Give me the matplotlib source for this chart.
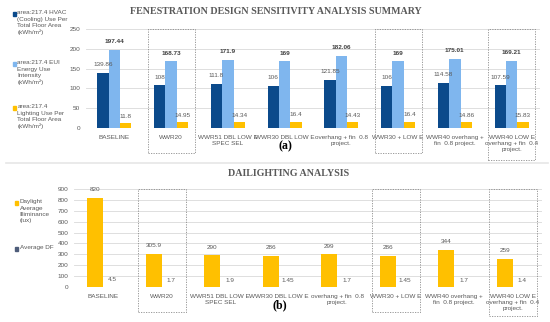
import matplotlib
matplotlib.use("Agg")
import matplotlib.pyplot as plt
import matplotlib.transforms as mtransforms
from matplotlib.patches import Rectangle
from matplotlib import font_manager
import numpy as np

categories = ["BASELINE", "WWR20", "WWR51 DBL LOW E\nSPEC SEL", "WWR30 DBL LOW E",
              "overhang + fin  0.8\nproject.", "WWR30 + LOW E",
              "WWR40 overhang +\nfin  0.8 project.", "WWR40 LOW E\noverhang + fin  0.4\nproject."]
hvac = [139.86, 108, 111.8, 106, 121.85, 106, 114.58, 107.59]
eui = [197.44, 168.73, 171.9, 169, 182.06, 169, 175.01, 169.21]
lighting = [11.8, 14.95, 14.34, 16.4, 14.43, 16.4, 14.86, 15.83]
lux = [820, 305.9, 290, 286, 299, 286, 344, 259]
df = [4.5, 1.7, 1.9, 1.45, 1.7, 1.45, 1.7, 1.4]
df_labels = ["4.5", "1.7", "1.9", "1.45", "1.7", "1.45", "1.7", "1.4"]
boxed = [1, 5, 7]

legend_a = ["area:217.4 HVAC\n(Cooling) Use Per\nTotal Floor Area\n(kWh/m²)",
            "area:217.4 EUI\nEnergy Use\nIntensity\n(kWh/m²)",
            "area:217.4\nLighting Use Per\nTotal Floor Area\n(kWh/m²)"]
legend_b = ["Daylight\nAverage\nIlliminance\n(lux)", "Average DF"]

C_DARK = "#0B4A8B"
C_LIGHT = "#7FB6EE"
C_GOLD = "#FFC000"
C_DF = "#4E5D7A"
TXT = "#595959"
GRID = "#D9D9D9"
FS = 4.6

installed = {f.name for f in font_manager.fontManager.ttflist}
NARROW = "Liberation Sans Narrow" if "Liberation Sans Narrow" in installed else "Liberation Sans"
plt.rcParams['font.family'] = ['Liberation Sans', 'DejaVu Sans']

W, H = 550, 322
fig = plt.figure(figsize=(5.5, 3.22), dpi=100)

def fx(px):
    return px / W

def fy(py):
    return 1 - py / H

x = np.arange(len(categories))
CAT_FS = 4.9 if NARROW != "Liberation Sans" else 4.2

# ---------- panel (a)
axa = fig.add_axes([fx(86), fy(128), fx(540) - fx(86), fy(29) - fy(128)])
bw = 0.2
axa.bar(x - bw, hvac, bw, color=C_DARK, zorder=3)
axa.bar(x, eui, bw, color=C_LIGHT, zorder=3)
axa.bar(x + bw, lighting, bw, color=C_GOLD, zorder=3)
for xi, v in zip(x, hvac):
    axa.annotate(f"{v:g}", (xi - bw, v), xytext=(0, 4), textcoords="offset points",
                 ha="center", va="bottom", fontsize=FS, color=TXT)
for xi, v in zip(x, eui):
    axa.annotate(f"{v:g}", (xi, v), xytext=(0, 4), textcoords="offset points",
                 ha="center", va="bottom", fontsize=FS, color="#404040", fontweight="bold")
for xi, v in zip(x, lighting):
    axa.annotate(f"{v:g}", (xi + bw, v), xytext=(0, 3), textcoords="offset points",
                 ha="center", va="bottom", fontsize=FS, color=TXT)
axa.set_ylim(0, 250)
axa.set_yticks([0, 50, 100, 150, 200, 250])
axa.set_xlim(-0.5, len(categories) - 0.5)
axa.set_xticks(x)
axa.set_xticklabels(categories, fontsize=CAT_FS, color=TXT, linespacing=1.3,
                    family=[NARROW, 'DejaVu Sans'])

# ---------- panel (b)
axb = fig.add_axes([fx(74), fy(287), fx(542) - fx(74), fy(189) - fy(287)])
bw2 = 0.27
axb.bar(x - bw2 / 2, lux, bw2, color=C_GOLD, zorder=3)
axb.bar(x + bw2 / 2, df, bw2, color=C_DF, zorder=3)
for xi, v in zip(x, lux):
    axb.annotate(f"{v:g}", (xi - bw2 / 2, v), xytext=(0, 4), textcoords="offset points",
                 ha="center", va="bottom", fontsize=FS, color=TXT)
for xi, v, s in zip(x, df, df_labels):
    axb.annotate(s, (xi + bw2 / 2, v), xytext=(1, 3), textcoords="offset points",
                 ha="center", va="bottom", fontsize=FS, color=TXT)
axb.set_ylim(0, 900)
axb.set_yticks(range(0, 901, 100))
axb.set_xlim(-0.5, len(categories) - 0.5)
axb.set_xticks(x)
axb.set_xticklabels(categories, fontsize=CAT_FS, color=TXT, linespacing=1.3,
                    family=[NARROW, 'DejaVu Sans'])

for ax in (axa, axb):
    for s in ax.spines.values():
        s.set_visible(False)
    ax.grid(axis="y", color=GRID, linewidth=0.6, zorder=0)
    ax.tick_params(axis="both", length=0, labelsize=FS, colors=TXT)
    ax.tick_params(axis="x", pad=5)
    ax.tick_params(axis="y", pad=4)

# dashed boxes
for ax, bottoms in ((axa, (-0.255, -0.255, -0.325)), (axb, (-0.255, -0.255, -0.30))):
    trans = mtransforms.blended_transform_factory(ax.transData, ax.transAxes)
    for i, b in zip(boxed, bottoms):
        r = Rectangle((i - 0.41, b), 0.83, 1 - b, transform=trans, fill=False,
                      edgecolor="#8C8C8C", linestyle=(0, (1.5, 1.5)), linewidth=0.6,
                      clip_on=False, zorder=5)
        ax.add_patch(r)

# titles
fig.text(fx(276), fy(12), "FENESTRATION DESIGN SENSITIVITY ANALYSIS SUMMARY",
         family=["Liberation Serif", "DejaVu Serif"], fontweight="bold", fontsize=7.2,
         color=TXT, ha="center", va="center")
fig.text(fx(289), fy(174), "DAILIGHTING ANALYSIS",
         family=["Liberation Serif", "DejaVu Serif"], fontweight="bold", fontsize=7.2,
         color=TXT, ha="center", va="center")
fig.text(fx(285), fy(146), "(a)", family=["Liberation Serif", "DejaVu Serif"],
         fontweight="bold", fontsize=8.5, color="black", ha="center", va="center")
fig.text(fx(280), fy(305), "(b)", family=["Liberation Serif", "DejaVu Serif"],
         fontweight="bold", fontsize=8.5, color="black", ha="center", va="center")

# separator
fig.add_artist(plt.Line2D([fx(6), fx(548)], [fy(163), fy(163)], color="#E6E6E6", linewidth=1.2))

# legends
def legend_item(px, py, color, text):
    s = 3.2
    fig.add_artist(Rectangle((fx(px), fy(py) - (s / 2) / H), s / W, s / H, color=color,
                             transform=fig.transFigure))
    fig.text(fx(px + 4.5), fy(py) + 3.6 / H, text, fontsize=FS, color=TXT, ha="left",
             va="top", linespacing=1.3)

legend_item(13, 14, C_DARK, legend_a[0])
legend_item(13, 64, C_LIGHT, legend_a[1])
legend_item(13, 108, C_GOLD, legend_a[2])
legend_item(15, 203, C_GOLD, legend_b[0])
legend_item(15, 249, C_DF, legend_b[1])

fig.savefig("out.png", dpi=100)
